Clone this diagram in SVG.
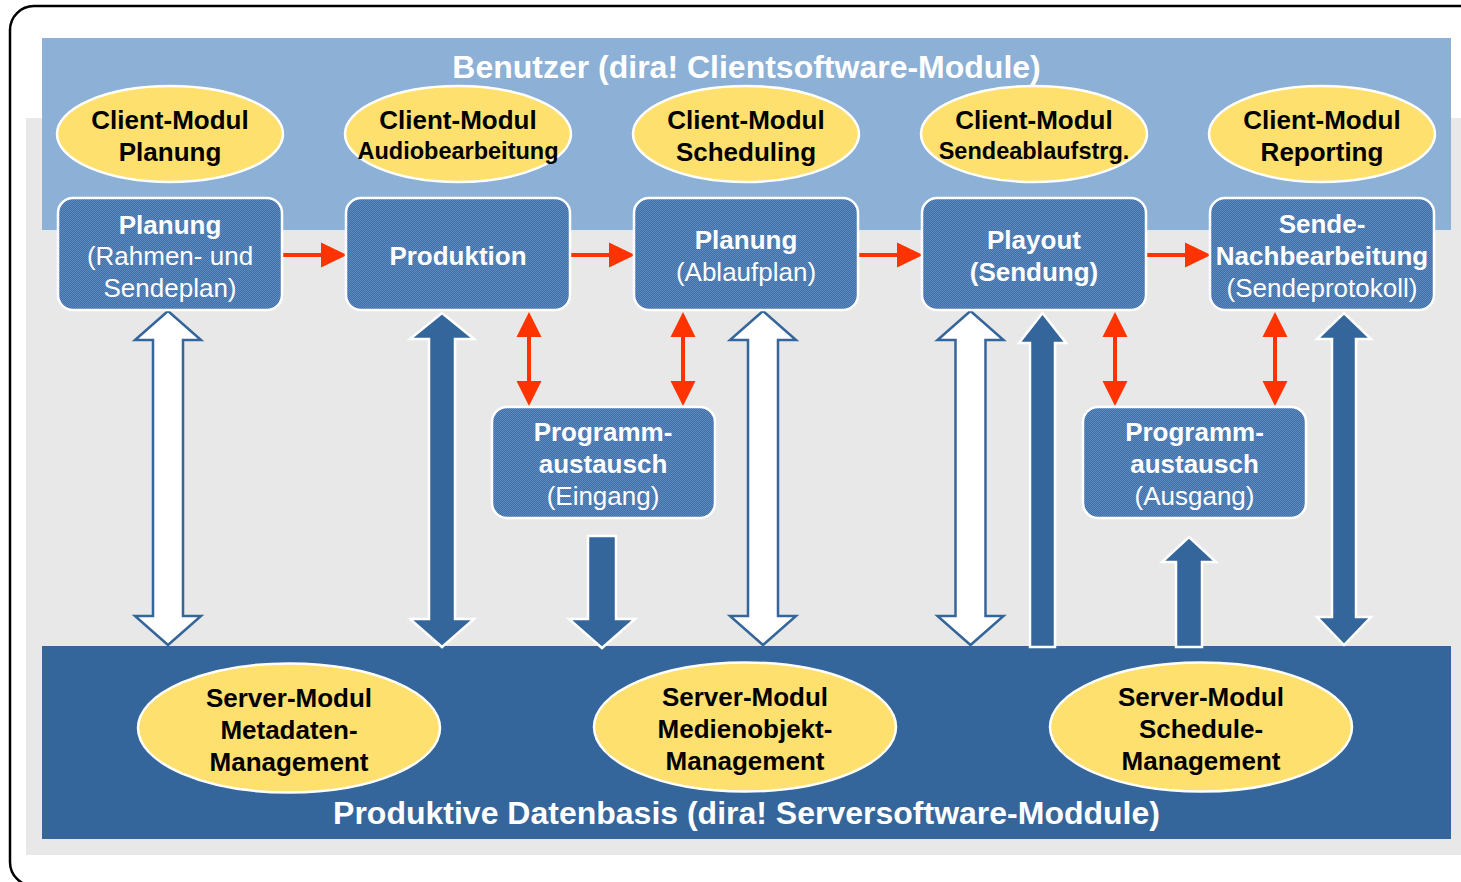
<svg xmlns="http://www.w3.org/2000/svg" width="1461" height="882" viewBox="0 0 1461 882">
<defs>
<pattern id="dither" width="2" height="2" patternUnits="userSpaceOnUse">
<rect width="2" height="2" fill="#3f6ea6"/>
<rect width="1" height="1" fill="#5e8bc0"/>
<rect x="1" y="1" width="1" height="1" fill="#5e8bc0"/>
</pattern>
</defs>
<style>
.box{fill:url(#dither);stroke:#ffffff;stroke-width:2.5}
.ell{fill:#fee06f;stroke:#ffffff;stroke-width:2.5}
.t{font-family:"Liberation Sans",Arial,sans-serif;text-anchor:middle}
.bw{fill:#ffffff;font-weight:bold;font-size:26px}
.nw{fill:#ffffff;font-weight:normal;font-size:26px}
.bk{fill:#000000;font-weight:bold;font-size:26px}
.bks{fill:#000000;font-weight:bold;font-size:23.5px}
.band{fill:#ffffff;font-weight:bold;font-size:32px}
.warr{fill:#ffffff;stroke:#35669b;stroke-width:2.5;stroke-linejoin:miter}
.darr{fill:#35669b;stroke:#ffffff;stroke-width:2.5;stroke-linejoin:miter}
.red{stroke:#ff3300;stroke-width:4;fill:none}
.redh{fill:#ff3300}
</style>

<!-- background -->
<rect x="10" y="6" width="1490" height="880" rx="24" fill="#ffffff" stroke="#000000" stroke-width="2.5"/>
<rect x="26" y="118" width="1440" height="737" fill="#e8e8e8"/>
<rect x="42" y="38" width="1409" height="192" fill="#8cb0d6"/>
<rect x="42" y="646" width="1409" height="193" fill="#35669b"/>

<g id="client-ellipses">
<g id="cm-planung"><ellipse class="ell" cx="170" cy="134" rx="113" ry="48"/>
<text class="t bk" x="170" y="129">Client-Modul</text><text class="t bk" x="170" y="161">Planung</text></g>
<g id="cm-audio"><ellipse class="ell" cx="458" cy="134" rx="113" ry="48"/>
<text class="t bk" x="458" y="129">Client-Modul</text><text class="t bks" x="458" y="159">Audiobearbeitung</text></g>
<g id="cm-scheduling"><ellipse class="ell" cx="746" cy="134" rx="113" ry="48"/>
<text class="t bk" x="746" y="129">Client-Modul</text><text class="t bk" x="746" y="161">Scheduling</text></g>
<g id="cm-sendeablauf"><ellipse class="ell" cx="1034" cy="134" rx="113" ry="48"/>
<text class="t bk" x="1034" y="129">Client-Modul</text><text class="t bks" x="1034" y="159">Sendeablaufstrg.</text></g>
<g id="cm-reporting"><ellipse class="ell" cx="1322" cy="134" rx="113" ry="48"/>
<text class="t bk" x="1322" y="129">Client-Modul</text><text class="t bk" x="1322" y="161">Reporting</text></g>
</g>

<g id="connectors">
<!-- horizontal red arrows -->
<line class="red" x1="283" y1="255" x2="324" y2="255"/><polygon class="redh" points="321,242.5 347,255 321,267.5"/>
<line class="red" x1="571" y1="255" x2="612" y2="255"/><polygon class="redh" points="609,242.5 635,255 609,267.5"/>
<line class="red" x1="859" y1="255" x2="900" y2="255"/><polygon class="redh" points="897,242.5 923,255 897,267.5"/>
<line class="red" x1="1147" y1="255" x2="1188" y2="255"/><polygon class="redh" points="1185,242.5 1211,255 1185,267.5"/>
<!-- vertical red double arrows -->
<g>
<line class="red" x1="529" y1="334" x2="529" y2="384"/><polygon class="redh" points="529,312 541.5,337 516.5,337"/><polygon class="redh" points="529,406 541.5,381 516.5,381"/>
<line class="red" x1="683" y1="334" x2="683" y2="384"/><polygon class="redh" points="683,312 695.5,337 670.5,337"/><polygon class="redh" points="683,406 695.5,381 670.5,381"/>
<line class="red" x1="1115" y1="334" x2="1115" y2="384"/><polygon class="redh" points="1115,312 1127.5,337 1102.5,337"/><polygon class="redh" points="1115,406 1127.5,381 1102.5,381"/>
<line class="red" x1="1275" y1="334" x2="1275" y2="384"/><polygon class="redh" points="1275,312 1287.5,337 1262.5,337"/><polygon class="redh" points="1275,406 1287.5,381 1262.5,381"/>
</g>
<!-- white block double arrows -->
<path class="warr" d="M168,311 L201,340 L183,340 L183,616 L201,616 L168,645 L135,616 L153,616 L153,340 L135,340 Z"/>
<path class="warr" d="M763,311 L796,340 L778,340 L778,616 L796,616 L763,645 L730,616 L748,616 L748,340 L730,340 Z"/>
<path class="warr" d="M970.5,311 L1003.5,340 L985.5,340 L985.5,616 L1003.5,616 L970.5,645 L937.5,616 L955.5,616 L955.5,340 L937.5,340 Z"/>
<!-- dark block arrows -->
<path class="darr" d="M442,313 L474,339 L455,339 L455,619 L474,619 L442,647 L410,619 L429,619 L429,339 L410,339 Z"/>
<path class="darr" d="M588,536 L616,536 L616,619 L635,619 L602,648 L569,619 L588,619 Z"/>
<path class="darr" d="M1042.5,313 L1066,343 L1055,343 L1055,647 L1030,647 L1030,343 L1019,343 Z"/>
<path class="darr" d="M1189,537 L1216,562 L1202,562 L1202,647 L1176,647 L1176,562 L1162,562 Z"/>
<path class="darr" d="M1344,313 L1371,339 L1356,339 L1356,617 L1371,617 L1344,645 L1317,617 L1332,617 L1332,339 L1317,339 Z"/>
</g>

<g id="process-boxes">
<g id="box-planung"><rect class="box" x="58" y="198" width="224" height="112" rx="15"/>
<text class="t bw" x="170" y="234">Planung</text><text class="t nw" x="170" y="265">(Rahmen- und</text><text class="t nw" x="170" y="297">Sendeplan)</text></g>
<g id="box-produktion"><rect class="box" x="346" y="198" width="224" height="112" rx="15"/>
<text class="t bw" x="458" y="265">Produktion</text></g>
<g id="box-ablaufplan"><rect class="box" x="634" y="198" width="224" height="112" rx="15"/>
<text class="t bw" x="746" y="249">Planung</text><text class="t nw" x="746" y="281">(Ablaufplan)</text></g>
<g id="box-playout"><rect class="box" x="922" y="198" width="224" height="112" rx="15"/>
<text class="t bw" x="1034" y="249">Playout</text><text class="t bw" x="1034" y="281">(Sendung)</text></g>
<g id="box-nachbearbeitung"><rect class="box" x="1210" y="198" width="224" height="112" rx="15"/>
<text class="t bw" x="1322" y="233">Sende-</text><text class="t bw" x="1322" y="265">Nachbearbeitung</text><text class="t nw" x="1322" y="297">(Sendeprotokoll)</text></g>
<g id="box-eingang"><rect class="box" x="492" y="407" width="223" height="111" rx="15"/>
<text class="t bw" x="603" y="441">Programm-</text><text class="t bw" x="603" y="473">austausch</text><text class="t nw" x="603" y="505">(Eingang)</text></g>
<g id="box-ausgang"><rect class="box" x="1083" y="407" width="223" height="111" rx="15"/>
<text class="t bw" x="1194.5" y="441">Programm-</text><text class="t bw" x="1194.5" y="473">austausch</text><text class="t nw" x="1194.5" y="505">(Ausgang)</text></g>
</g>

<g id="server-ellipses">
<g id="sm-metadaten"><ellipse class="ell" cx="289" cy="728" rx="151" ry="64.5"/>
<text class="t bk" x="289" y="707">Server-Modul</text><text class="t bk" x="289" y="739">Metadaten-</text><text class="t bk" x="289" y="771">Management</text></g>
<g id="sm-medienobjekt"><ellipse class="ell" cx="745" cy="727" rx="151" ry="64.5"/>
<text class="t bk" x="745" y="706">Server-Modul</text><text class="t bk" x="745" y="738">Medienobjekt-</text><text class="t bk" x="745" y="770">Management</text></g>
<g id="sm-schedule"><ellipse class="ell" cx="1201" cy="727" rx="151" ry="64.5"/>
<text class="t bk" x="1201" y="706">Server-Modul</text><text class="t bk" x="1201" y="738">Schedule-</text><text class="t bk" x="1201" y="770">Management</text></g>
</g>

<g id="band-labels">
<text class="t band" x="746.5" y="78">Benutzer (dira! Clientsoftware-Module)</text>
<text class="t band" x="746.5" y="824">Produktive Datenbasis (dira! Serversoftware-Moddule)</text>
</g>
</svg>
